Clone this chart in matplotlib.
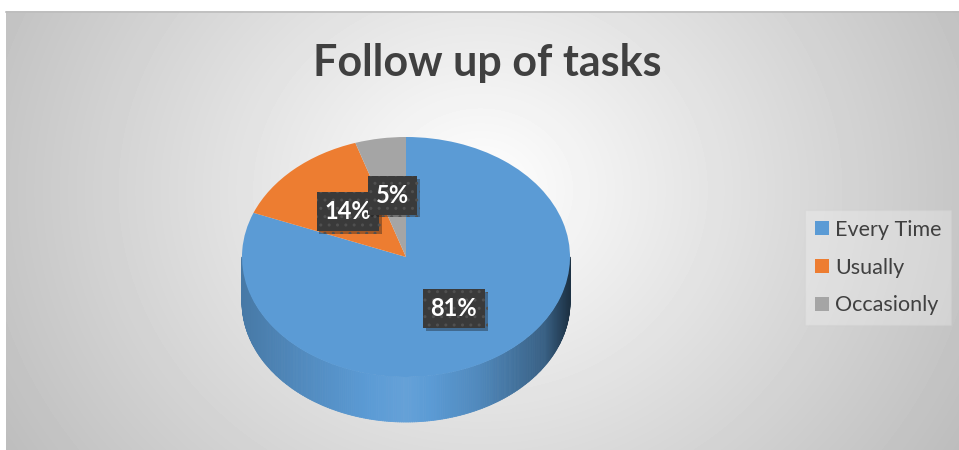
import numpy as np
import matplotlib
matplotlib.use('Agg')
import matplotlib.pyplot as plt
import matplotlib.patheffects as pe
from matplotlib.collections import PolyCollection
from matplotlib.colors import to_rgb

plt.rcParams['font.family'] = ['Lato', 'DejaVu Sans']

# data
labels = ['Every Time', 'Usually', 'Occasionly']
values = [81, 14, 5]
colors = ['#5B9BD5', '#ED7D31', '#A5A5A5']
title = 'Follow up of tasks'

fig = plt.figure(figsize=(9.59, 4.5), dpi=100)

# background: white margin, chart area with radial grey gradient
bg = fig.add_axes([0, 0, 1, 1])
bg.axis('off')
yy, xx = np.mgrid[11:450, 6:959]
r = np.sqrt(((xx - 480) / 474.0) ** 2 + ((yy - 190) / 420.0) ** 2)
shade = np.clip(1 - 0.22 * r, 0, 1)
bg.imshow(shade, cmap='gray', vmin=0, vmax=1, extent=(6, 959, 450, 11),
          aspect='auto', interpolation='bilinear')
bg.plot([6, 959], [11.5, 11.5], color='#bdbdbd', lw=1.2)
bg.set_xlim(0, 959)
bg.set_ylim(450, 0)

fig.text(487 / 959, 1 - 63 / 450, title, ha='center', va='center',
         fontsize=31, fontweight='bold', color='#404040')

# pie (top face) on an axes stretched to give the 3D tilt
ax = fig.add_axes([201 / 959, 1 / 450, 410 / 959, 342 / 450])
wedges, texts, autotexts = ax.pie(
    values, colors=colors, startangle=90, counterclock=False,
    autopct='%.0f%%', pctdistance=0.52,
    wedgeprops=dict(linewidth=0, zorder=2),
    textprops=dict(color='white', fontsize=17, fontweight='bold'))
ax.set_aspect('auto')
ax.set_xlim(-1.25, 1.25)
ax.set_ylim(-1.6, 1.25)
ax.axis('off')

# side of the disc
depth = 0.375
cum = np.cumsum(values) / np.sum(values)
theta = np.linspace(np.pi, 2 * np.pi, 241)
polys, fcs = [], []
for t0, t1 in zip(theta[:-1], theta[1:]):
    tm = 0.5 * (t0 + t1)
    pos = ((90 - np.degrees(tm)) % 360) / 360.0
    k = int(np.searchsorted(cum, pos))
    base = np.array(to_rgb(colors[k]))
    f = np.interp(np.cos(tm), [-1, -0.6, 0.0, 0.45, 0.85, 1.0],
                  [0.78, 0.90, 1.06, 0.88, 0.62, 0.32])
    c = base * f if f <= 1 else base + (1 - base) * (f - 1)
    polys.append([(np.cos(t0), np.sin(t0)), (np.cos(t1), np.sin(t1)),
                  (np.cos(t1), np.sin(t1) - depth), (np.cos(t0), np.sin(t0) - depth)])
    fcs.append(np.clip(c, 0, 1))
ax.add_collection(PolyCollection(polys, facecolors=fcs, edgecolors=fcs,
                                 linewidths=0.6, zorder=1))

for t in autotexts:
    t.set_bbox(dict(boxstyle='square,pad=0.33', fc='#3a3a3a', ec='#505050',
                    lw=0, hatch='..'))
    t.get_bbox_patch().set_path_effects(
        [pe.withSimplePatchShadow(offset=(2, -2), alpha=0.35), pe.Normal()])
    t.set_zorder(5)

leg = fig.legend(wedges, labels, loc='upper left',
                 bbox_to_anchor=(805 / 959, 1 - 210 / 450),
                 fontsize=15.5, labelcolor='#404040', frameon=True,
                 fancybox=False, edgecolor='#cfcfcf', facecolor='white',
                 framealpha=0.25, handlelength=0.65, handleheight=0.65,
                 handletextpad=0.3, labelspacing=0.83, borderpad=0.45,
                 borderaxespad=0)
leg.get_frame().set_linewidth(1.0)

fig.savefig('out.png', dpi=100)
